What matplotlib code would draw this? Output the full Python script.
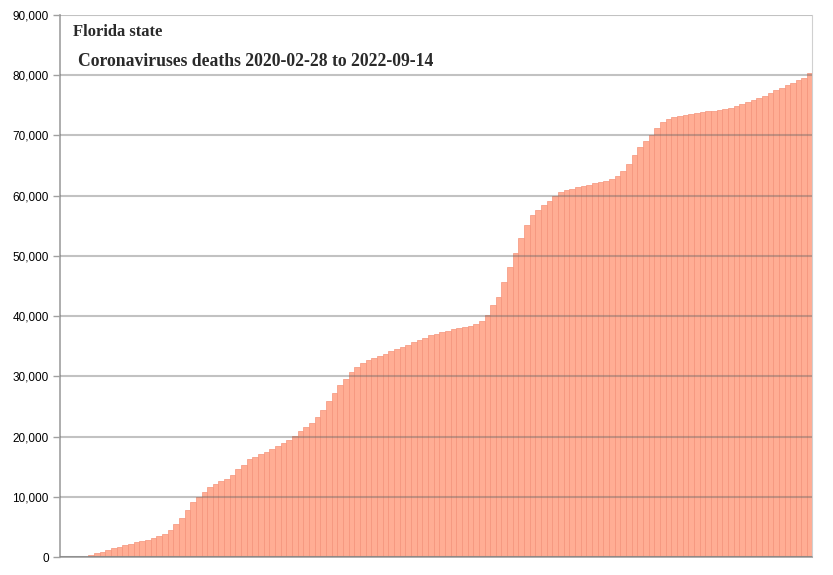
import matplotlib.pyplot as plt
from matplotlib.ticker import FuncFormatter, MultipleLocator

# Florida cumulative coronavirus deaths, one value per week from 2020-02-28
week_values = [
    0, 0, 0, 0, 80, 300, 600, 880, 1150, 1420,
    1730, 1950, 2200, 2460, 2700, 2890, 3200, 3470, 3870, 4560,
    5450, 6530, 7850, 9150, 10040, 10830, 11570, 12100, 12560, 12990,
    13640, 14550, 15330, 16250, 16660, 17050, 17450, 17880, 18400, 18930,
    19500, 20160, 20840, 21520, 22270, 23240, 24430, 25850, 27170, 28480,
    29600, 30690, 31590, 32280, 32670, 33030, 33370, 33760, 34150, 34480,
    34850, 35240, 35640, 36030, 36430, 36820, 37100, 37370, 37590, 37790,
    37960, 38170, 38400, 38720, 39230, 40180, 41910, 43220, 45600, 48130,
    50530, 52950, 55110, 56740, 57690, 58470, 59140, 59890, 60620, 60900,
    61160, 61390, 61620, 61840, 62070, 62300, 62460, 62780, 63330, 64130,
    65250, 66730, 68110, 69100, 70100, 71210, 72240, 72740, 73040, 73260,
    73440, 73610, 73720, 73840, 73980, 74120, 74260, 74430, 74600, 74880,
    75170, 75510, 75860, 76260, 76630, 77060, 77480, 77860, 78310, 78750,
    79140, 79580, 80400,
]
n_days = 930
week_start = [7 * k for k in range(len(week_values))]

title_state = "Florida state"
title_range = "Coronaviruses deaths 2020-02-28 to 2022-09-14"

fig = plt.figure(figsize=(8.33, 5.75), dpi=100)
ax = fig.add_axes([60 / 833, 18 / 575, 752 / 833, 542 / 575])

ax.bar(week_start, week_values, width=7, align="edge",
       color="#ffad94", edgecolor="#f4937a", linewidth=0.5, zorder=2)

ax.set_xlim(0, n_days)
ax.set_ylim(0, 90000)
ax.yaxis.set_major_locator(MultipleLocator(10000))
ax.yaxis.set_major_formatter(FuncFormatter(lambda v, _: f"{int(v):,}"))
ax.grid(axis="y", color="#606060", alpha=0.38, linewidth=1.5, zorder=3)
ax.set_axisbelow(False)
ax.set_xticks([])
ax.tick_params(axis="y", length=5, width=1, color="#a0a0a0", pad=3,
               labelsize=8.5, labelfontfamily="Liberation Sans")

for side in ("left", "bottom"):
    ax.spines[side].set_color("#a0a0a0")
    ax.spines[side].set_linewidth(1.2)
ax.spines["right"].set_color("#d0d0d0")
ax.spines["top"].set_visible(False)

ax.text(13 / 752, 1 - 17 / 542, title_state, transform=ax.transAxes,
        family="Liberation Serif", fontsize=12, fontweight="bold",
        color="#2a2a2a", va="center", ha="left")
ax.text(18 / 752, 1 - 47 / 542, title_range, transform=ax.transAxes,
        family="Liberation Serif", fontsize=12.7, fontweight="bold",
        color="#2a2a2a", va="center", ha="left")

fig.savefig("out.png", dpi=100)
